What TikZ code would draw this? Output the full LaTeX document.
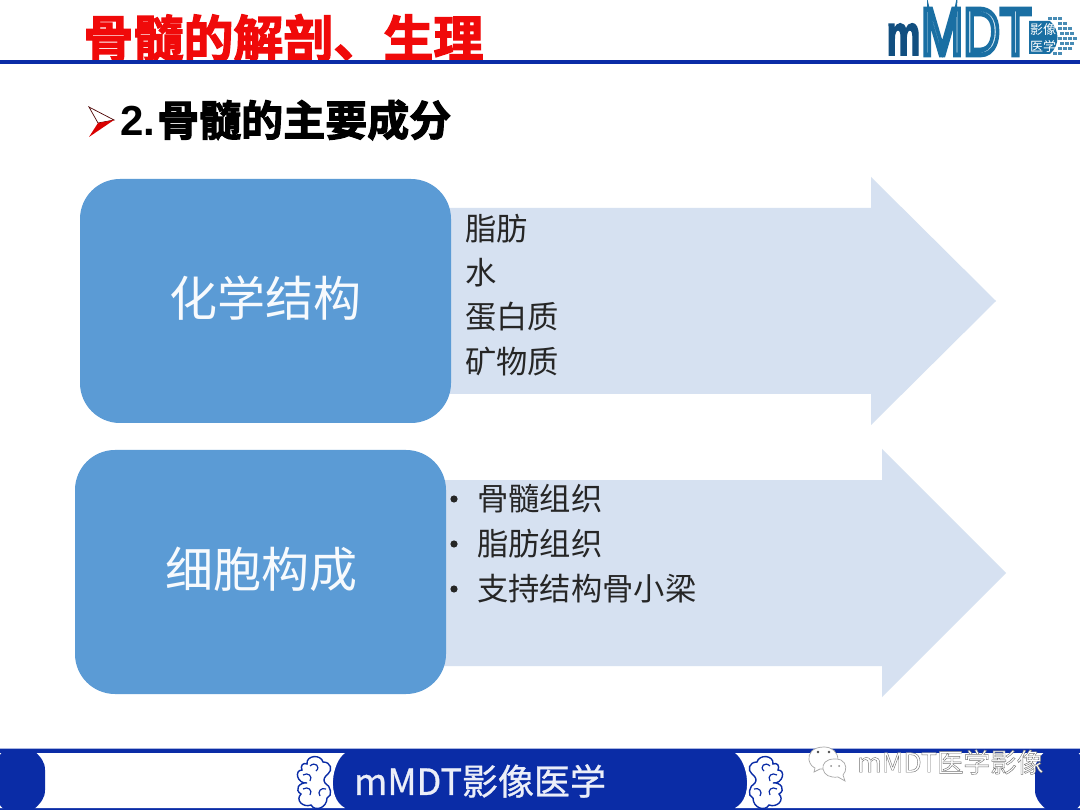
\documentclass[tikz,border=0pt]{standalone}
\usepackage{fontspec}
\setmainfont{Noto Sans CJK SC}
\newfontfamily\latinfont{Liberation Sans}
\newfontfamily\heavyfont[FakeBold=2.6]{Noto Sans CJK SC Bold}
\newfontfamily\mediumfont[FakeBold=0.8]{Noto Sans CJK SC}
\newfontfamily\lineinfont[FakeBold=7]{Liberation Sans}
\newfontfamily\markfont[FakeBold=1.6]{Noto Sans CJK SC}
\newfontfamily\logomfont[FakeBold=3,BoldFont=*]{Liberation Sans Bold}
\definecolor{barblue}{HTML}{0A2CA6}
\definecolor{boxblue}{HTML}{5B9BD5}
\definecolor{arrowblue}{HTML}{D6E1F1}
\definecolor{logoblue}{HTML}{1A6FA3}
\definecolor{logodark}{HTML}{124F80}
\definecolor{titlered}{HTML}{F00A0A}
\begin{document}
\begin{tikzpicture}[x=1pt,y=-1pt,
  boxnode/.style={fill=boxblue,rounded corners=40pt},
  boxlabel/.style={text=white!95!boxblue,font=\fontsize{48}{48}\selectfont},
  arrownode/.style={fill=arrowblue},
  listitem/.style={anchor=west,inner sep=0pt,text=black!85,font=\fontsize{31.3}{31.3}\selectfont},
  cloudline/.style={draw=barblue,line width=1.4pt,fill=white},
  curlline/.style={draw=barblue,line width=1.2pt},
  cloudorn/.pic={
    \path[cloudline] (10,8) .. controls (9,-1) and (24,-2) .. (26,6) .. controls (34,6) and (36,14) .. (31,18)
      .. controls (27,21) and (26,24) .. (28,27) .. controls (34,30) and (36,40) .. (30,42)
      .. controls (30,52) and (18,56) .. (14,49) .. controls (6,52) and (-2,44) .. (4,38)
      .. controls (-3,34) and (2,26) .. (10,27) .. controls (0,28) and (-3,14) .. (5,14)
      .. controls (3,10) and (6,6) .. (10,8) -- cycle;
    \path[curlline] (13,10) .. controls (18,5) and (24,11) .. (19,15) (6,19) .. controls (11,16) and (16,20) .. (13,25)
      (6,33) .. controls (11,30) and (16,34) .. (13,39) (29,33) .. controls (24,31) and (20,36) .. (23,40);
  }]
\useasboundingbox (0,0) rectangle (1080,810);
\fill[white] (0,0) rectangle (1080,810);

% header
\node[anchor=center,inner sep=0pt,text=titlered,font=\fontsize{50}{50}\heavyfont] (Ptitle) at (283.5,38) {骨髓的解剖、生理};
\fill[barblue] (0,60) rectangle (1080,64);
\node[anchor=west,inner sep=0pt,font=\fontsize{42}{42}\heavyfont] (Psub) at (120,120) {{\latinfont\bfseries 2.}\kern2pt 骨髓的主要成分};
\fill[white] (89,107) -- (114,120) -- (98,123) -- cycle;
\draw[black!70!red,line width=.7pt] (89,107) -- (114,120) -- (98,123) -- cycle;
\fill[black!15!red] (98,123) -- (114,120) -- (89,137) -- cycle;

% logo
\fill[logoblue] (1029,21) -- (1050,21) .. controls (1060,30) and (1060,45) .. (1050,54) -- (1029,54) -- cycle;
\foreach \x/\y in {1058/22,1063/22,1058/27,1063/27,1068/27,1060/32,1065/32,1070/32,1058/37,1063/37,1068/37,1073/37,1060/42,1065/42,1070/42,1058/47,1063/47,1068/47,1053/52,1058/52,1048/17,1053/17,1058/17}
  \fill[logoblue!80] (\x,\y) rectangle ++(3.5,3.5);
\node[anchor=base,inner sep=0pt,text=logodark,xscale=.66,transform shape,font=\fontsize{58}{58}\logomfont] (Pm) at (903.5,55) {m};
\node[anchor=base,inner sep=0pt,xscale=.76,transform shape,font=\fontsize{67}{67}\lineinfont] (Pmdt) at (976,55) {\color{logoblue}\special{pdf:code 0.82 0.9 0.95 rg}MDT};
\node[inner sep=0pt,text=white,font=\fontsize{13}{13}\selectfont] (Plogoa) at (1043,30) {影像};
\node[inner sep=0pt,text=white,font=\fontsize{13}{13}\selectfont] (Plogob) at (1043,46) {医学};

% first row
\path[arrownode] (440,208) -- (871,208) -- (871,177) -- (996,301) -- (871,425) -- (871,394) -- (440,394) -- cycle;
\path[boxnode] (80,179) rectangle (451,423);
\node[boxlabel] (P1) at (265,298) {化学结构};
\node[listitem] (P1a) at (465,229) {脂肪};
\node[listitem] (P1b) at (465,273) {水};
\node[listitem] (P1c) at (465,317) {蛋白质};
\node[listitem] (P1d) at (465,362) {矿物质};

% second row
\path[arrownode] (435,480) -- (882,480) -- (882,449) -- (1006,573) -- (882,697) -- (882,666) -- (435,666) -- cycle;
\path[boxnode] (75,450) rectangle (446,694);
\node[boxlabel] (P2) at (261,569) {细胞构成};
\foreach \n/\y/\t in {a/499/骨髓组织,b/544/脂肪组织,c/589/支持结构骨小梁}{
  \fill[black!85] (454,\y) circle (3.6pt);
  \node[listitem] (P2\n) at (477,\y) {\t};
}

% footer
\fill[barblue!35] (0,748) rectangle (1080,749);
\fill[barblue] (0,749) rectangle (1080,810);
\fill[white] (0,753) -- (345,753) .. controls (332,762) and (326,798) .. (345,808) -- (0,808) -- cycle;
\fill[white] (1080,753) -- (735,753) .. controls (748,762) and (754,798) .. (735,808) -- (1080,808) -- cycle;
\fill[barblue] (5,750) -- (33,750) .. controls (41,757) and (45,762) .. (45,770) -- (45,790) .. controls (45,798) and (41,803) .. (33,810) -- (5,810) .. controls (0,806) and (-7,798) .. (-7,790) -- (-7,770) .. controls (-7,762) and (0,754) .. (5,750) -- cycle;
\fill[barblue] (1075,750) -- (1047,750) .. controls (1039,757) and (1035,762) .. (1035,770) -- (1035,790) .. controls (1035,798) and (1039,803) .. (1047,810) -- (1075,810) .. controls (1080,806) and (1087,798) .. (1087,790) -- (1087,770) .. controls (1087,762) and (1080,754) .. (1075,750) -- cycle;
\pic at (297,756) {cloudorn};
\pic[xscale=-1] at (783,756) {cloudorn};
\node[inner sep=0pt,text=white!92!barblue,font=\fontsize{36}{36}\mediumfont] (Pfoot) at (480,781) {mMDT影像医学};

% watermark
\draw[black!35,fill=white,line width=.7pt] (824,747) .. controls (812,747) and (808,754) .. (809,760) .. controls (810,765) and (813,767) .. (815,768) -- (814,772) -- (820,769) .. controls (826,770) and (834,768) .. (838,760) .. controls (838,752) and (832,747) .. (824,747) -- cycle;
\draw[black!35,fill=white,line width=.7pt] (834,759) .. controls (826,759) and (822,764) .. (823,769) .. controls (824,775) and (830,778) .. (838,777) -- (845,781) -- (843,775) .. controls (847,771) and (847,763) .. (841,760) .. controls (839,759) and (836,759) .. (834,759) -- cycle;
\fill[black!70] (818,752) circle (1.4pt) (829,752) circle (1.4pt);
\fill[black!45] (831,766) circle (1pt) (839,766) circle (1pt);
\node[anchor=west,inner sep=0pt,font=\fontsize{26.6}{26.6}\markfont] (Pmark) at (857,762) {\color{black!55}\special{pdf:code 1 1 1 rg}mMDT医学影像};
\end{tikzpicture}
\end{document}
